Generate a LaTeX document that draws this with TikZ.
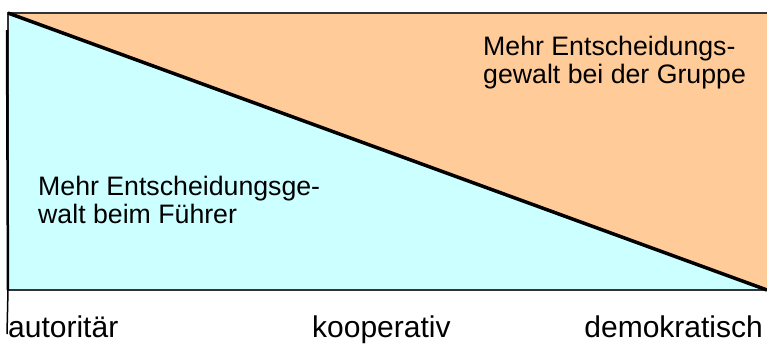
\documentclass[tikz,border=0pt]{standalone}
\usepackage{fontspec}
\setmainfont{Liberation Sans}
\usepackage{xcolor}
\usetikzlibrary{positioning}

\definecolor{leadcyan}{HTML}{CCFFFF}
\definecolor{grouporange}{HTML}{FFCC99}
\definecolor{edgegray}{HTML}{333333}

\begin{document}
\begin{tikzpicture}[x=1pt, y=-1pt,
   share/.style={anchor=north west, align=left, inner sep=0pt,
                 font=\fontsize{26.7}{28}\selectfont},
   style/.style={inner sep=0pt, font=\fontsize{30}{32}\selectfont},
   frame/.style={draw=edgegray, line width=1.5pt},
   split/.style={draw=black, line width=3.5pt}]
  \useasboundingbox (0,0) rectangle (767,349);
  % corners of the field
  \coordinate (tl) at (8,13);
  \coordinate (tr) at (767,13);
  \coordinate (br) at (767,290);
  \coordinate (bl) at (8,290);
  \coordinate (axtop) at (7,30);
  \coordinate (axend) at (7,334);
  \fill[grouporange] (tl) -- (tr) -- (br) -- cycle;
  \fill[leadcyan] (tl) -- (br) -- (bl) -- cycle;
  \draw[frame] (bl) -- (tl) -- (tr);
  \draw[frame] (bl) -- (br);
  \draw[line width=2.5pt] (axtop) -- (bl);
  \draw[line width=1.5pt] (bl) -- (axend);
  \draw[split] (tl) -- (br);
  \node[share] (group) at (483,35.5) {Mehr Entscheidungs-\\gewalt bei der Gruppe};
  \node[share] (leader) at (38,175.5) {Mehr Entscheidungsge-\\walt beim Führer};
  \node[style, anchor=base west] (auto) at (8,337) {autoritär};
  \node[style, anchor=base west] (koop) at (312,337) {kooperativ};
  \node[style, anchor=base east] (demo) at (763,337) {demokratisch};
\end{tikzpicture}
\end{document}
